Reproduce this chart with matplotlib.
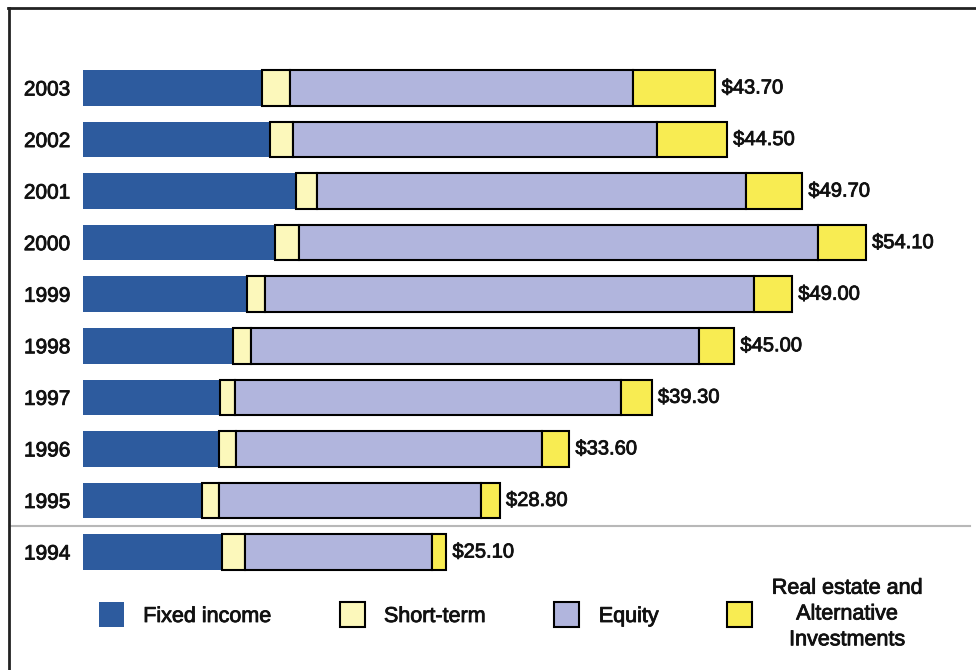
import matplotlib
matplotlib.use("Agg")
import matplotlib.pyplot as plt
import matplotlib.patheffects as pe
import numpy as np
from matplotlib.lines import Line2D

plt.rcParams['font.family'] = ['Liberation Sans', 'DejaVu Sans']

# asset allocation by year, $ billions
years = ["1994", "1995", "1996", "1997", "1998", "1999", "2000", "2001", "2002", "2003"]
fixed_income = [9.6, 8.2, 9.4, 9.5, 10.4, 11.3, 13.3, 14.7, 12.9, 12.4]
short_term = [1.6, 1.2, 1.2, 1.0, 1.2, 1.3, 1.6, 1.5, 1.6, 1.9]
equity = [12.9, 18.1, 21.1, 26.7, 31.0, 33.8, 35.9, 29.6, 25.2, 23.7]
real_estate = [1.0, 1.3, 1.9, 2.1, 2.4, 2.6, 3.3, 3.9, 4.8, 5.7]
totals = [25.10, 28.80, 33.60, 39.30, 45.00, 49.00, 54.10, 49.70, 44.50, 43.70]

series = [
    ("Fixed income", fixed_income, "#2d5b9e", "none", 0),
    ("Short-term", short_term, "#fcf8bb", "black", 1.5),
    ("Equity", equity, "#b1b5dd", "black", 1.5),
    ("Real estate and\nAlternative\nInvestments", real_estate, "#f8ec52", "black", 1.5),
]

# slightly heavier text strokes
heavy = [pe.withStroke(linewidth=0.6, foreground="#111111")]

W, H = 976, 670
fig = plt.figure(figsize=(W / 100, H / 100), dpi=100)
ax = fig.add_axes([83 / W, 1 - 577.8 / H, 893 / W, (577.8 - 62.2) / H])

y = np.arange(len(years))
left = np.zeros(len(years))
handles = []
for name, vals, color, edge, lw in series:
    b = ax.barh(y, vals, left=left, height=0.69, color=color,
                edgecolor=edge, linewidth=lw, label=name)
    handles.append(b)
    left = left + np.array(vals)

for yi, tot, end in zip(y, totals, left):
    ax.annotate(f"${tot:.2f}", xy=(end, yi), xytext=(4.5, 0), textcoords="offset points",
                ha="left", va="center", fontsize=14.5, color="#111111",
                path_effects=heavy)

ax.set_xlim(0, 893 / 14.47)
ax.set_ylim(-0.5, len(years) - 0.5)
ax.set_yticks(y)
ax.set_yticklabels(years, fontsize=15, color="#111111", path_effects=heavy)
ax.tick_params(axis="y", length=0, pad=9)
ax.set_xticks([])
for s in ax.spines.values():
    s.set_visible(False)

# gray rule between 1995 and 1994
fig.add_artist(Line2D([10 / W, 970 / W], [1 - 526 / H, 1 - 526 / H],
                      color="#b8b8b8", lw=1.5))
# outer frame
fig.add_artist(Line2D([8 / W, 1.0], [1 - 8 / H, 1 - 8 / H], color="#222222", lw=2))
fig.add_artist(Line2D([9 / W, 9 / W], [0, 1 - 8 / H], color="#222222", lw=2))

leg = fig.legend(handles=handles, loc="center", bbox_to_anchor=(0.523, 1 - 614 / H),
                 ncol=4, frameon=False, fontsize=15.5, handlelength=1.16,
                 handleheight=1.4, handletextpad=0.9, columnspacing=3.2)
for t in leg.get_texts():
    t.set_multialignment("center")
    t.set_linespacing(1.3)
    t.set_color("#111111")
    t.set_path_effects(heavy)

fig.savefig("out.png", dpi=100, facecolor="white")
